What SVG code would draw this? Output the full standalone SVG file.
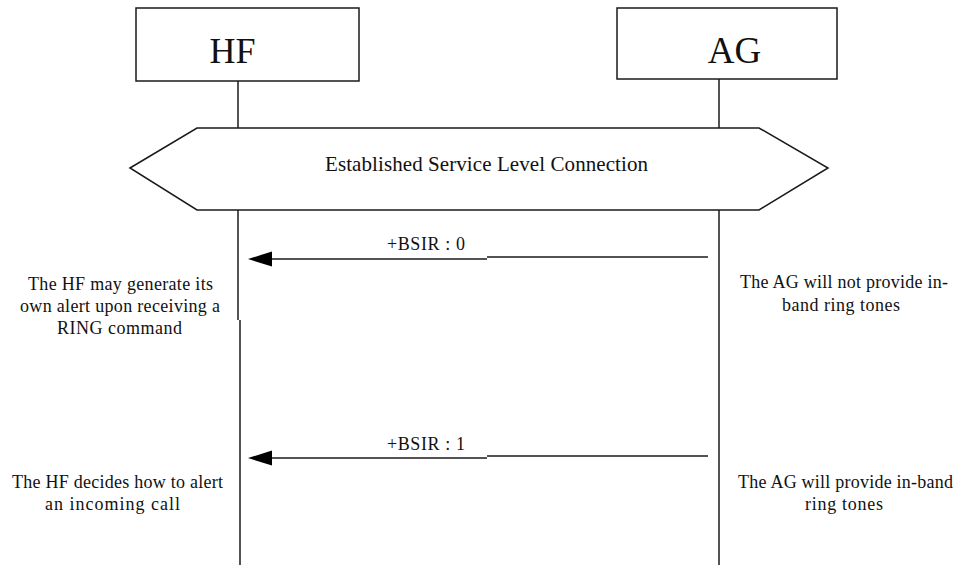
<svg xmlns="http://www.w3.org/2000/svg" width="956" height="565" viewBox="0 0 956 565">
<style>
  .box { fill: #fff; stroke: #1a1a1a; stroke-width: 1.5; }
  .life { stroke: #1a1a1a; stroke-width: 1.5; fill: none; }
  .msg { stroke: #1a1a1a; stroke-width: 1.5; fill: none; }
  .head { fill: #000; }
  .t { font-family: "Liberation Serif", "Times New Roman", serif; fill: #111; }
  .title { font-size: 36px; text-anchor: middle; }
  .lbl { font-size: 18px; }
  .note { font-size: 18px; }
  .band { font-size: 21px; }
</style>
<rect width="956" height="565" fill="#fff"/>

<g id="lifelines">
  <line class="life" x1="238" y1="81" x2="238" y2="128"/>
  <line class="life" x1="238" y1="210" x2="238" y2="320"/>
  <line class="life" x1="240" y1="320" x2="240" y2="565"/>
  <line class="life" x1="719" y1="79" x2="719" y2="128"/>
  <line class="life" x1="719" y1="210" x2="719" y2="565"/>
</g>

<g id="HF">
  <rect class="box" x="136" y="8" width="223" height="73"/>
  <text class="t title" x="232.5" y="63">HF</text>
</g>

<g id="AG">
  <rect class="box" x="617" y="8" width="220" height="71"/>
  <text class="t title" x="734.5" y="63" style="font-size:37px">AG</text>
</g>

<g id="slc">
  <polygon class="box" points="130,168 197,128 759,128 828,168 759,210 197,210"/>
  <text class="t band" x="325" y="171" textLength="323" lengthAdjust="spacing">Established Service Level Connection</text>
</g>

<g id="connectors">
  <g id="bsir0">
    <line class="msg" x1="708" y1="257" x2="487" y2="257"/>
    <line class="msg" x1="487" y1="259" x2="270" y2="259"/>
    <polygon class="head" points="248,259 272,251.5 272,266.5"/>
    <text class="t lbl" x="387" y="250" textLength="78" lengthAdjust="spacing">+BSIR : 0</text>
  </g>
  <g id="bsir1">
    <line class="msg" x1="708" y1="456" x2="487" y2="456"/>
    <line class="msg" x1="487" y1="458" x2="270" y2="458"/>
    <polygon class="head" points="248,458 272,450.5 272,465.5"/>
    <text class="t lbl" x="387" y="450" textLength="78" lengthAdjust="spacing">+BSIR : 1</text>
  </g>
</g>

<g id="note-hf-1">
  <text class="t note" x="28" y="290" textLength="185" lengthAdjust="spacing">The HF may generate its</text>
  <text class="t note" x="20" y="312" textLength="200" lengthAdjust="spacing">own alert upon receiving a</text>
  <text class="t note" x="57" y="334" textLength="125" lengthAdjust="spacing">RING command</text>
</g>

<g id="note-ag-1">
  <text class="t note" x="740" y="288" textLength="208" lengthAdjust="spacing">The AG will not provide in-</text>
  <text class="t note" x="782" y="311" textLength="118" lengthAdjust="spacing">band ring tones</text>
</g>

<g id="note-hf-2">
  <text class="t note" x="12" y="488" textLength="211" lengthAdjust="spacing">The HF decides how to alert</text>
  <text class="t note" x="45" y="510" textLength="135" lengthAdjust="spacing">an incoming call</text>
</g>

<g id="note-ag-2">
  <text class="t note" x="738" y="488" textLength="215" lengthAdjust="spacing">The AG will provide in-band</text>
  <text class="t note" x="805" y="510" textLength="78" lengthAdjust="spacing">ring tones</text>
</g>
</svg>
